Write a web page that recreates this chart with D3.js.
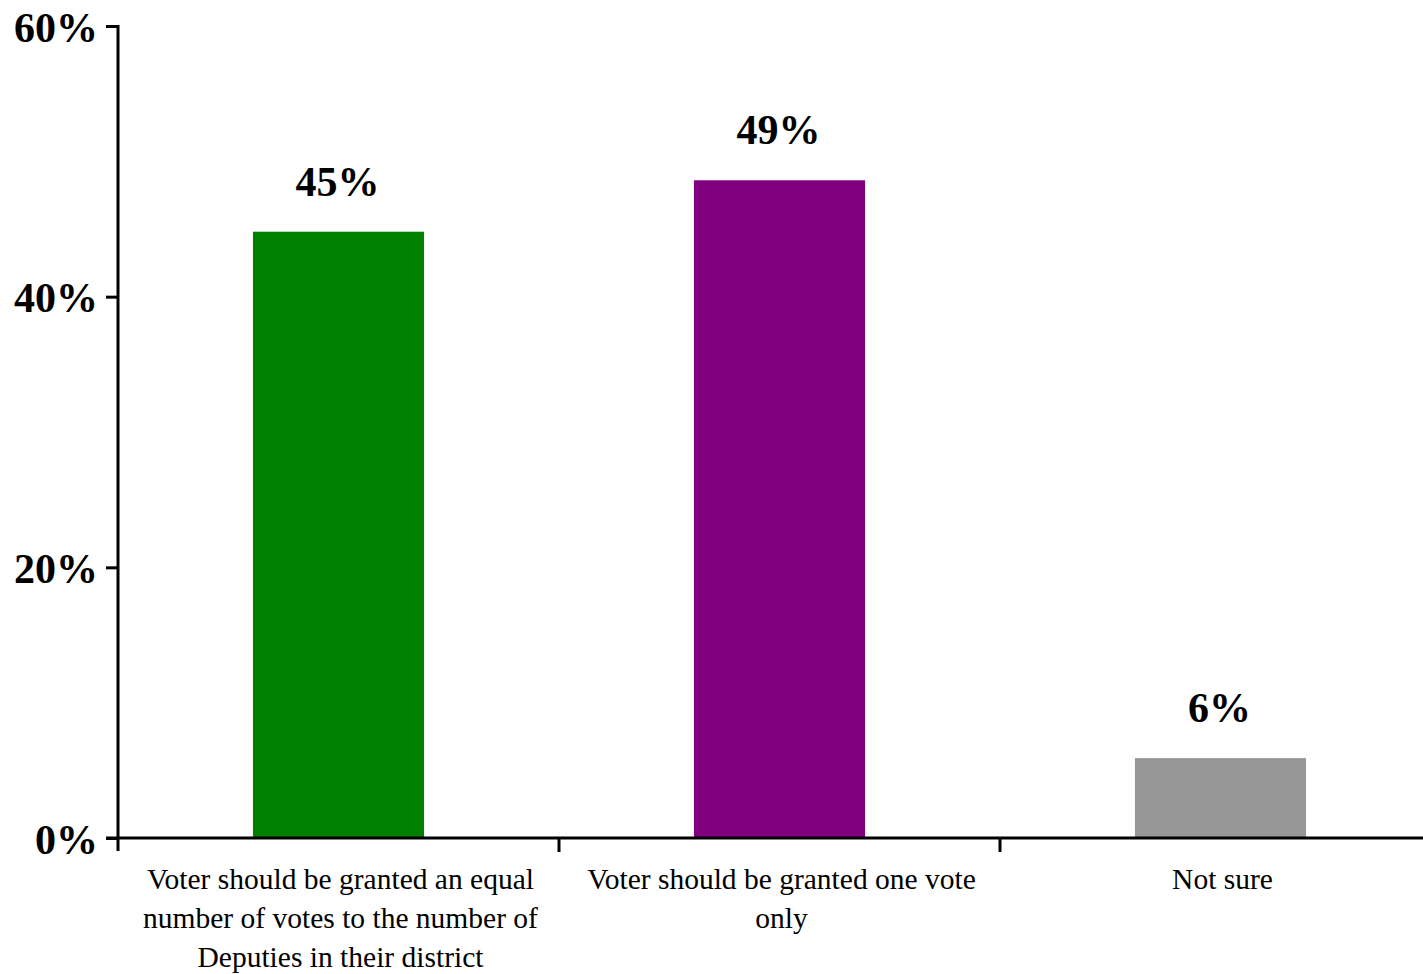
<!DOCTYPE html>
<html>
<head>
<meta charset="utf-8">
<script src="https://cdn.jsdelivr.net/npm/d3@7"></script>
<style>
  html, body { margin: 0; padding: 0; background: #fff; }
  svg { display: block; }
  text { font-family: "Liberation Serif", "Times New Roman", serif; }
</style>
</head>
<body>
<svg id="chart" width="1423" height="974"></svg>
<script>
// ---- data ----
const categories = [
  "Voter should be granted an equal number of votes to the number of Deputies in their district",
  "Voter should be granted one vote only",
  "Not sure"
];
const categoryLines = [
  ["Voter should be granted an equal", "number of votes to the number of", "Deputies in their district"],
  ["Voter should be granted one vote", "only"],
  ["Not sure"]
];
const values = [44.8, 48.6, 5.9];
const valueLabels = ["45%", "49%", "6%"];
const colors = ["#008000", "#800080", "#969696"];
const yTicks = [0, 20, 40, 60];
const yTickLabels = ["0%", "20%", "40%", "60%"];

// ---- drawing ----
const svg = d3.select("#chart");

const x = d3.scaleBand().domain(categories).range([118, 1441]).paddingInner(0).paddingOuter(0);
const y = d3.scaleLinear().domain([0, 60]).range([838, 26]);
const barW = x.bandwidth() * 0.388;

// bars
svg.append("g").selectAll("rect")
  .data(categories)
  .join("rect")
  .attr("x", d => x(d) + (x.bandwidth() - barW) / 2)
  .attr("y", (d, i) => y(values[i]))
  .attr("width", barW)
  .attr("height", (d, i) => y(0) - y(values[i]))
  .attr("fill", (d, i) => colors[i]);

// value labels
svg.append("g").selectAll("text")
  .data(categories)
  .join("text")
  .attr("x", d => x(d) + x.bandwidth() / 2 - 1)
  .attr("y", (d, i) => y(values[i]) - 36)
  .attr("text-anchor", "middle")
  .attr("font-weight", "bold")
  .attr("font-size", 42)
  .text((d, i) => valueLabels[i]);

// y axis
const yAxis = d3.axisLeft(y)
  .tickValues(yTicks)
  .tickFormat((d, i) => yTickLabels[i])
  .tickSize(12)
  .tickPadding(8);
const gy = svg.append("g").attr("transform", "translate(118,0)").call(yAxis);
gy.select(".domain").remove();
gy.selectAll(".tick line").attr("stroke", "#000").attr("stroke-width", 3);
gy.selectAll(".tick text")
  .attr("font-family", "Liberation Serif, Times New Roman, serif")
  .attr("font-size", 42)
  .attr("font-weight", "bold")
  .attr("fill", "#000")
  .attr("dy", "0.36em");
svg.append("line")
  .attr("x1", 118).attr("x2", 118)
  .attr("y1", y(60) - 1).attr("y2", y(0) + 13)
  .attr("stroke", "#000").attr("stroke-width", 3);

// x axis
svg.append("line")
  .attr("x1", 106).attr("x2", 1423)
  .attr("y1", y(0)).attr("y2", y(0))
  .attr("stroke", "#000").attr("stroke-width", 3);
const xTickPos = categories.slice(1).map(d => x(d));
svg.append("g").selectAll("line")
  .data(xTickPos)
  .join("line")
  .attr("x1", d => d).attr("x2", d => d)
  .attr("y1", y(0)).attr("y2", y(0) + 14)
  .attr("stroke", "#000").attr("stroke-width", 3);

// category labels
const lab = svg.append("g").selectAll("text")
  .data(categories)
  .join("text")
  .attr("x", d => x(d) + x.bandwidth() / 2 + 2)
  .attr("y", 889)
  .attr("text-anchor", "middle")
  .attr("font-size", 29.5)
  .attr("fill", "#000");
lab.each(function(d, i) {
  d3.select(this).selectAll("tspan")
    .data(categoryLines[i])
    .join("tspan")
    .attr("x", x(d) + x.bandwidth() / 2 + 2)
    .attr("dy", (t, j) => j === 0 ? 0 : 39)
    .text(t => t);
});
</script>
</body>
</html>
